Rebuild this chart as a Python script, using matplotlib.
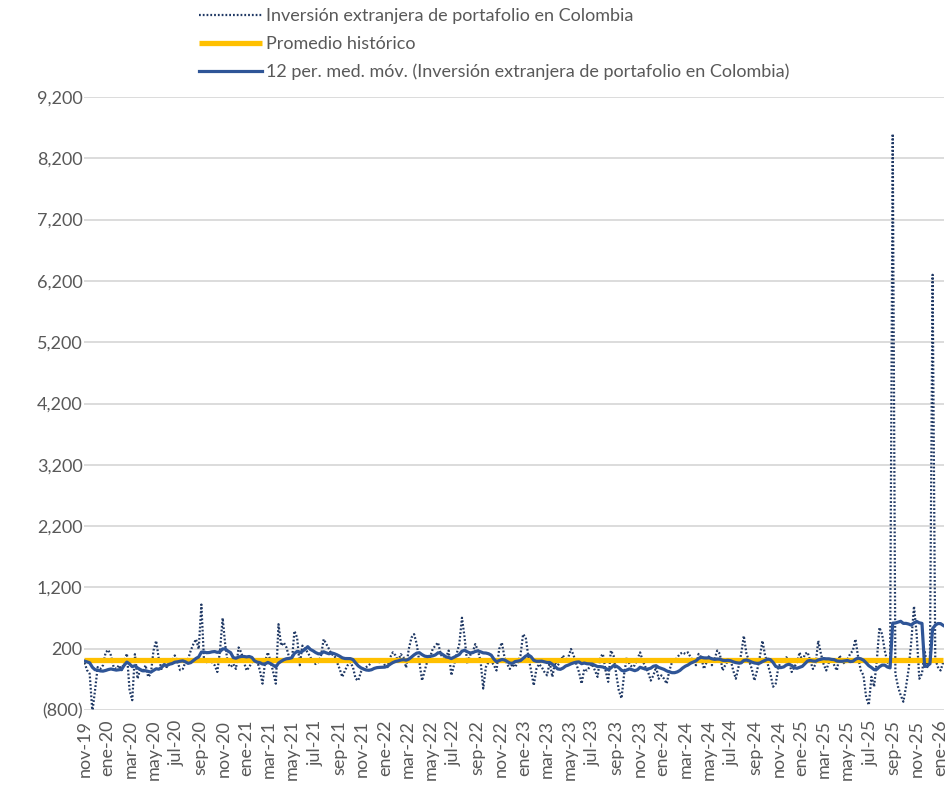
import matplotlib
matplotlib.use("Agg")
import matplotlib.pyplot as plt
from matplotlib.ticker import FuncFormatter, FixedLocator
import pandas as pd

# ---------------- data (weekly) ----------------
start_date = "2019-11-01"
# weeks before nov-19 (off-chart, only feed the moving average at the left edge)
semanas_previas = [10, -20, 30, 0, -10, 20, -30, 10, 0, -20, 10]
inversion = [
    -20, -150, -210, -830, -480, -100, -130, -70, 140, 180,
    90, -100, -130, -70, -150, 0, 120, -480, -640, 110,
    -290, -130, -180, -70, -260, -210, 170, 330, 30, -130,
    -70, -100, -20, 0, 90, 0, -150, -130, -20, 30,
    170, 275, 355, 195, 920, 0, -20, 30, -20, -70,
    -180, 170, 700, 250, -50, -100, -50, -130, 220, 140,
    -20, -155, -100, -20, 30, 0, -155, -370, 0, 140,
    0, -180, -370, 600, 250, 300, 220, 60, -20, 490,
    380, -70, 250, 195, 140, 60, -20, -50, -20, 90,
    355, 275, 195, 110, 90, -20, -130, -260, -155, -70,
    -20, -100, -290, -320, -180, -130, -100, -70, -20, 0,
    -10, -20, 0, -70, -100, 60, 140, 90, 0, 110,
    60, -110, 195, 380, 437, 275, -20, -320, -155, 0,
    60, 195, 250, 300, 115, 30, 60, 170, -235, -70,
    115, 275, 705, 380, -50, 90, 140, 275, 170, 0,
    -450, -100, -20, 0, -70, -155, 195, 300, 60, -50,
    -130, -50, -100, -20, 90, 437, 380, 60, -155, -400,
    -130, -50, -100, -180, -235, -20, -260, -20, -70, -20,
    90, 0, 60, 195, 90, -50, -180, -370, -130, -155,
    -100, -50, -155, -260, 60, 115, -155, -340, 170, 90,
    -210, -480, -610, -210, 60, -50, -100, -70, 30, 140,
    0, -100, -180, -320, -235, -100, -290, -235, -290, -370,
    -155, -20, 0, 60, 115, 140, 115, 140, 60, 0,
    -70, 115, 60, -130, -20, 90, -70, 30, 170, 115,
    -155, -70, 0, 30, -155, -290, -100, 115, 410, 115,
    0, -130, -320, -155, 60, 330, 90, -50, -210, -420,
    -370, -100, -20, 0, 60, -20, -180, -100, -20, 140,
    -20, 115, 140, 0, -130, -50, 330, 115, -50, -155,
    -20, 30, -70, -155, 90, 0, -50, 30, 115, 170,
    355, 60, -155, -235, -590, -720, -260, -420, 0, 545,
    437, 170, -20, -100, 8600, -210, -420, -560, -665, -420,
    -130, 330, 893, 437, -290, -210, 170, -100, 0, 6300,
    30, -100, -155, -20,
]
promedio_historico = 20
ventana_media_movil = 12

y_ticks = [-800, 200, 1200, 2200, 3200, 4200, 5200, 6200, 7200, 8200, 9200]
x_tick_months = pd.date_range("2019-11-01", "2026-01-01", freq="2MS")
meses = ["ene", "feb", "mar", "abr", "may", "jun", "jul", "ago", "sep", "oct", "nov", "dic"]

label_serie = "Inversión extranjera de portafolio en Colombia"
label_prom = "Promedio histórico"
label_mm = "12 per. med. móv. (Inversión extranjera de portafolio en Colombia)"

# ---------------- build ----------------
valores = semanas_previas + inversion
all_dates = pd.date_range(end=pd.Timestamp(start_date) + pd.Timedelta(days=7 * (len(inversion) - 1)),
                          periods=len(valores), freq="7D")
serie_total = pd.Series(valores, index=all_dates, dtype=float)
media_movil_total = serie_total.rolling(ventana_media_movil, min_periods=1).mean()
n_prev = len(semanas_previas)
dates = all_dates[n_prev:]
media_movil = media_movil_total.iloc[n_prev:]

plt.rcParams["font.family"] = ["Lato", "DejaVu Sans"]
GRAY = "#595959"
FS = 13

fig = plt.figure(figsize=(9.51, 7.86), dpi=100)
ax = fig.add_axes([84 / 951, 1 - 710 / 786, (944 - 84) / 951, (710 - 97) / 786])

ax.plot(serie_total.index[n_prev - 1:], serie_total.values[n_prev - 1:], color="#1F3864",
        lw=1.6, linestyle=(0, (0.8, 0.9)), label=label_serie, zorder=3)
ax.plot(dates, [promedio_historico] * len(dates), color="#FFC000", lw=3.8,
        label=label_prom, zorder=4, solid_capstyle="butt")
ax.plot(dates, media_movil.values, color="#2F5597", lw=2.3, label=label_mm, zorder=5)

ax.set_ylim(-800, 9200)
ax.set_xlim(dates[0] - pd.Timedelta(days=1), dates[-1] + pd.Timedelta(days=2))
ax.yaxis.set_major_locator(FixedLocator(y_ticks))

def fmt(v, pos):
    v = int(round(v))
    return f"({abs(v):,})" if v < 0 else f"{v:,}"

ax.yaxis.set_major_formatter(FuncFormatter(fmt))
ax.set_xticks(x_tick_months)
ax.set_xticklabels([f"{meses[d.month - 1]}-{d.strftime('%y')}" for d in x_tick_months],
                   rotation=90)

ax.grid(axis="y", color="#D9D9D9", lw=1.3)
ax.set_axisbelow(True)
for s in ax.spines.values():
    s.set_visible(False)
ax.tick_params(axis="both", length=0, colors=GRAY, labelsize=FS)
ax.tick_params(axis="y", pad=1)
ax.tick_params(axis="x", pad=7)

fig.legend(loc="upper left", bbox_to_anchor=(199 / 951, 1 - 8 / 786), frameon=False,
           fontsize=FS, handlelength=3.5, handletextpad=0.2, labelspacing=0.66,
           labelcolor=GRAY, borderaxespad=0, borderpad=0)

fig.savefig("out.png", dpi=100)
